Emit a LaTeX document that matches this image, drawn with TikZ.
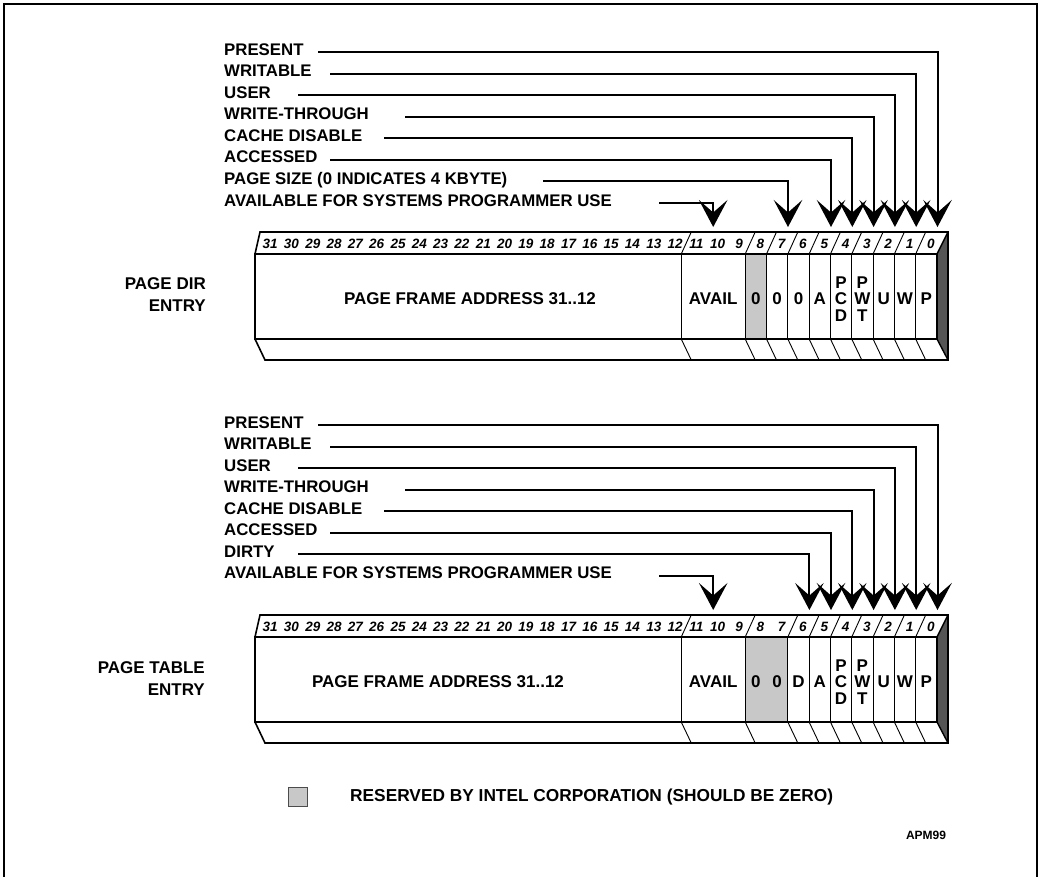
\documentclass[tikz,border=0pt]{standalone}
\usepackage{fontspec}
\setmainfont{Liberation Sans}
\usetikzlibrary{arrows.meta}
\definecolor{resgray}{RGB}{200,200,200}
\definecolor{sidegray}{RGB}{85,85,85}
\tikzset{
  lbl/.style={font=\fontsize{16.8}{20}\selectfont\bfseries, anchor=base west, inner sep=0pt},
  sidelbl/.style={font=\fontsize{17}{20}\selectfont\bfseries, anchor=base east, inner sep=0pt},
  celltxt/.style={font=\fontsize{17}{16.5}\selectfont\bfseries, inner sep=0pt, align=center},
  bitno/.style={font=\fontsize{13.5}{13.5}\selectfont\bfseries\itshape, inner sep=0pt, anchor=base},
  conn/.style={line width=2pt, -{Stealth[length=27pt,width=28.5pt,inset=12.5pt]}},
  thinline/.style={line width=0.9pt},
}
\newcommand\regdraw[5]{% #1 y offset, #2 divider boundaries, #3 #4 reserved boundaries, #5 prefix
\begin{scope}[shift={(0,#1)}]
  \fill[resgray] ({255+#3*21.3125},254) rectangle ({255+#4*21.3125},339);
  \fill[sidegray] (937,254) -- (948,232) -- (948,360) -- (937,339) -- cycle;
  \foreach \b in {#2}{
    \pgfmathsetmacro\xb{255+\b*21.3125}
    \draw[thinline] (\xb,254) -- (\xb,339);
    \draw[thinline] (\xb,254) -- ({\xb+10},232);
    \draw[thinline] (\xb,339) -- ({\xb+10},360);
  }
  \draw[line width=1.6pt, line join=miter] (255,254) -- (260,232) -- (948,232) -- (948,360) -- (265,360) -- (255,339);
  \draw[line width=1.4pt] (937,254) -- (948,232);
  \draw[line width=1.4pt] (937,339) -- (948,360);
  \draw[line width=2.4pt] (255,254) rectangle (937,339);
  \foreach \i in {0,...,31}{
    \node[bitno] (#5b\i) at ({255+(31.5-\i)*21.3125+4.5},248.3) {\i};
  }
\end{scope}
}
\begin{document}
\begin{tikzpicture}[x=1pt,y=-1pt]
\useasboundingbox (0,0) rectangle (1038,876);
% frame
\draw[line width=2pt] (4,878) -- (4,3.5) -- (1037,3.5) -- (1037,878);

% registers
\regdraw{0}{20,23,24,25,26,27,28,29,30,31}{23}{24}{d}
\regdraw{383}{20,23,25,26,27,28,29,30,31}{23}{25}{t}

% side labels
\node[sidelbl] (pd1) at (206,289) {PAGE DIR};
\node[sidelbl] (pd2) at (206,311) {ENTRY};
\node[sidelbl] (pt1) at (205,673) {PAGE TABLE};
\node[sidelbl] (pt2) at (205,695) {ENTRY};

% cell texts, page dir
\node[celltxt] (dpfa) at (470,299) {PAGE FRAME ADDRESS 31..12};
\node[celltxt] (dav) at (713.2,299) {AVAIL};
\node[celltxt] (d8) at (755.8,299) {0};
\node[celltxt] (d7) at (777.2,299) {0};
\node[celltxt] (d6) at (798.5,299) {0};
\node[celltxt] (d5) at (819.8,299) {A};
\node[celltxt] (d4) at (841.1,299) {P\\C\\D};
\node[celltxt] (d3) at (862.4,299) {P\\W\\T};
\node[celltxt] (d2) at (883.7,299) {U};
\node[celltxt] (d1) at (905.0,299) {W};
\node[celltxt] (d0) at (926.3,299) {P};

% cell texts, page table
\node[celltxt] (tpfa) at (438,682) {PAGE FRAME ADDRESS 31..12};
\node[celltxt] (tav) at (713.2,682) {AVAIL};
\node[celltxt] (t8) at (755.8,682) {0};
\node[celltxt] (t7) at (777.2,682) {0};
\node[celltxt] (t6) at (798.5,682) {D};
\node[celltxt] (t5) at (819.8,682) {A};
\node[celltxt] (t4) at (841.1,682) {P\\C\\D};
\node[celltxt] (t3) at (862.4,682) {P\\W\\T};
\node[celltxt] (t2) at (883.7,682) {U};
\node[celltxt] (t1) at (905.0,682) {W};
\node[celltxt] (t0) at (926.3,682) {P};

% labels, page dir group
\node[lbl] (la0) at (224,55) {PRESENT};
\node[lbl] (la1) at (224,76.6) {WRITABLE};
\node[lbl] (la2) at (224,98.1) {USER};
\node[lbl] (la3) at (224,119.7) {WRITE-THROUGH};
\node[lbl] (la4) at (224,141.3) {CACHE DISABLE};
\node[lbl] (la5) at (224,162.9) {ACCESSED};
\node[lbl] (la6) at (224,184.4) {PAGE SIZE (0 INDICATES 4 KBYTE)};
\node[lbl] (la7) at (224,206) {AVAILABLE FOR SYSTEMS PROGRAMMER USE};

\coordinate (sa0) at (318,52);
\coordinate (sa1) at (330,73.6);
\coordinate (sa2) at (298,95.1);
\coordinate (sa3) at (405,116.7);
\coordinate (sa4) at (384,138.3);
\coordinate (sa5) at (330,159.9);
\coordinate (sa6) at (543,181.4);
\coordinate (sa7) at (659,203);

\coordinate (ea0) at (937.5,227);
\coordinate (ea1) at (916.2,227);
\coordinate (ea2) at (894.9,227);
\coordinate (ea3) at (873.6,227);
\coordinate (ea4) at (852.3,227);
\coordinate (ea5) at (831,227);
\coordinate (ea6) at (788,227);
\coordinate (ea7) at (713.2,227);

\foreach \k in {0,...,7}{\draw[conn] (sa\k) -| (ea\k);}

% labels, page table group
\node[lbl] (lb0) at (224,428) {PRESENT};
\node[lbl] (lb1) at (224,449.5) {WRITABLE};
\node[lbl] (lb2) at (224,471) {USER};
\node[lbl] (lb3) at (224,492.5) {WRITE-THROUGH};
\node[lbl] (lb4) at (224,514) {CACHE DISABLE};
\node[lbl] (lb5) at (224,535.5) {ACCESSED};
\node[lbl] (lb6) at (224,557) {DIRTY};
\node[lbl] (lb7) at (224,578.5) {AVAILABLE FOR SYSTEMS PROGRAMMER USE};

\coordinate (sb0) at (318,425);
\coordinate (sb1) at (330,446.5);
\coordinate (sb2) at (298,468);
\coordinate (sb3) at (405,489.5);
\coordinate (sb4) at (384,511);
\coordinate (sb5) at (330,532.5);
\coordinate (sb6) at (298,554);
\coordinate (sb7) at (659,575.5);

\coordinate (eb0) at (937.5,610);
\coordinate (eb1) at (916.2,610);
\coordinate (eb2) at (894.9,610);
\coordinate (eb3) at (873.6,610);
\coordinate (eb4) at (852.3,610);
\coordinate (eb5) at (831,610);
\coordinate (eb6) at (809.4,610);
\coordinate (eb7) at (713.2,610);

\foreach \k in {0,...,7}{\draw[conn] (sb\k) -| (eb\k);}

% legend
\node[draw=black!70, line width=1.2pt, fill=resgray, minimum width=19pt, minimum height=19pt, inner sep=0pt] (key) at (298,797) {};
\node[font=\fontsize{17.3}{20}\selectfont\bfseries, anchor=west, inner sep=0pt] (keytxt) at (350,797.5) {RESERVED BY INTEL CORPORATION (SHOULD BE ZERO)};
\node[font=\fontsize{12}{14}\selectfont\bfseries, inner sep=0pt] (apm) at (926,835) {APM99};
\end{tikzpicture}
\end{document}
